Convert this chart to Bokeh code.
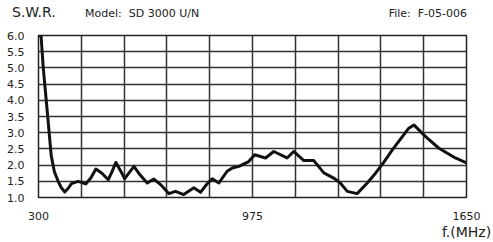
from bokeh.plotting import figure
from bokeh.layouts import column
from bokeh.models import (Range1d, FixedTicker, PrintfTickFormatter, LinearAxis, Div)
from bokeh.embed import file_html
from bokeh.resources import INLINE

freq_mhz = [300, 308, 315, 330, 340, 350, 362, 372, 383, 395, 404, 425, 449, 465, 481,
            500, 520, 532, 544, 560, 572, 585, 601, 620, 643, 664, 685, 711, 732,
            758, 790, 811, 830, 848, 869, 895, 911, 932, 963, 982, 1016, 1042, 1084,
            1105, 1137, 1168, 1180, 1200, 1231, 1252, 1274, 1305, 1337, 1363, 1390,
            1416, 1468, 1484, 1521, 1563, 1615, 1650]
swr = [6.0, 6.0, 5.0, 3.4, 2.3, 1.8, 1.5, 1.3, 1.17, 1.3, 1.43, 1.5, 1.42, 1.6, 1.88,
       1.75, 1.55, 1.8, 2.08, 1.8, 1.58, 1.75, 1.96, 1.7, 1.45, 1.57, 1.4, 1.12, 1.19,
       1.09, 1.3, 1.16, 1.4, 1.58, 1.45, 1.81, 1.91, 1.96, 2.11, 2.32, 2.22, 2.42, 2.22,
       2.42, 2.14, 2.14, 2.0, 1.76, 1.6, 1.45, 1.19, 1.12, 1.45, 1.75, 2.1,
       2.47, 3.14, 3.24, 2.88, 2.52, 2.22, 2.07]

x_grid_ticks = [300, 435, 570, 705, 840, 975, 1110, 1245, 1380, 1515, 1650]
x_tick_labels = [300, 975, 1650]
y_ticks = [1.0, 1.5, 2.0, 2.5, 3.0, 3.5, 4.0, 4.5, 5.0, 5.5, 6.0]

title_text = "S.W.R."
model_text = "Model:&nbsp; SD 3000 U/N"
file_text = "File:&nbsp; F-05-006"
x_unit_text = "f.(MHz)"

FONT = "DejaVu Sans"
INK = "#222222"

header_html = (
    f'<div style="position:relative;width:493px;height:25px;overflow:hidden;'
    f'font-family:\'{FONT}\';color:{INK};line-height:1;">'
    f'<span style="position:absolute;left:12px;top:5px;font-size:14px;">{title_text}</span>'
    f'<span style="position:absolute;left:85px;top:8px;font-size:11px;">{model_text}</span>'
    f'<span style="position:absolute;right:26px;top:8px;font-size:11px;">{file_text}</span>'
    '</div>'
)
header = Div(text=header_html, width=493, height=25, margin=0)

p = figure(width=493, height=217, output_backend="svg", toolbar_location=None,
           x_range=Range1d(300, 1650), y_range=Range1d(1.0, 6.0),
           min_border_left=38, min_border_right=27, min_border_top=10,
           min_border_bottom=44, margin=0)
p.background_fill_color = "white"
p.border_fill_color = "white"
p.outline_line_color = "#222222"
p.outline_line_width = 1.5

p.xgrid.ticker = FixedTicker(ticks=x_grid_ticks)
p.ygrid.ticker = FixedTicker(ticks=y_ticks)
for g in (p.xgrid, p.ygrid):
    g.grid_line_color = "#333333"
    g.grid_line_width = 1.5
    g.grid_line_alpha = 1.0

p.xaxis.ticker = FixedTicker(ticks=x_tick_labels)
p.yaxis.ticker = FixedTicker(ticks=y_ticks)
p.yaxis.formatter = PrintfTickFormatter(format="%.1f")

unit_axis = LinearAxis(ticker=FixedTicker(ticks=[x_tick_labels[-1]]),
                       major_label_overrides={x_tick_labels[-1]: x_unit_text})
p.add_layout(unit_axis, "below")

for ax in (p.xaxis[0], p.yaxis[0], unit_axis):
    ax.axis_line_color = None
    ax.major_tick_line_color = None
    ax.minor_tick_line_color = None
    ax.major_label_text_font = FONT
    ax.major_label_text_font_size = "11px"
    ax.major_label_text_color = INK
p.xaxis[0].major_label_standoff = 8
p.yaxis[0].major_label_standoff = 8
unit_axis.major_tick_out = 0
unit_axis.major_tick_in = 0
unit_axis.minor_tick_out = 0
unit_axis.major_label_standoff = 1
unit_axis.major_label_text_font_size = "14px"

p.line(freq_mhz, swr, line_color="#111111", line_width=3, line_join="round")

layout = column(header, p, spacing=0)
open("out.html", "w").write(file_html(layout, INLINE))
